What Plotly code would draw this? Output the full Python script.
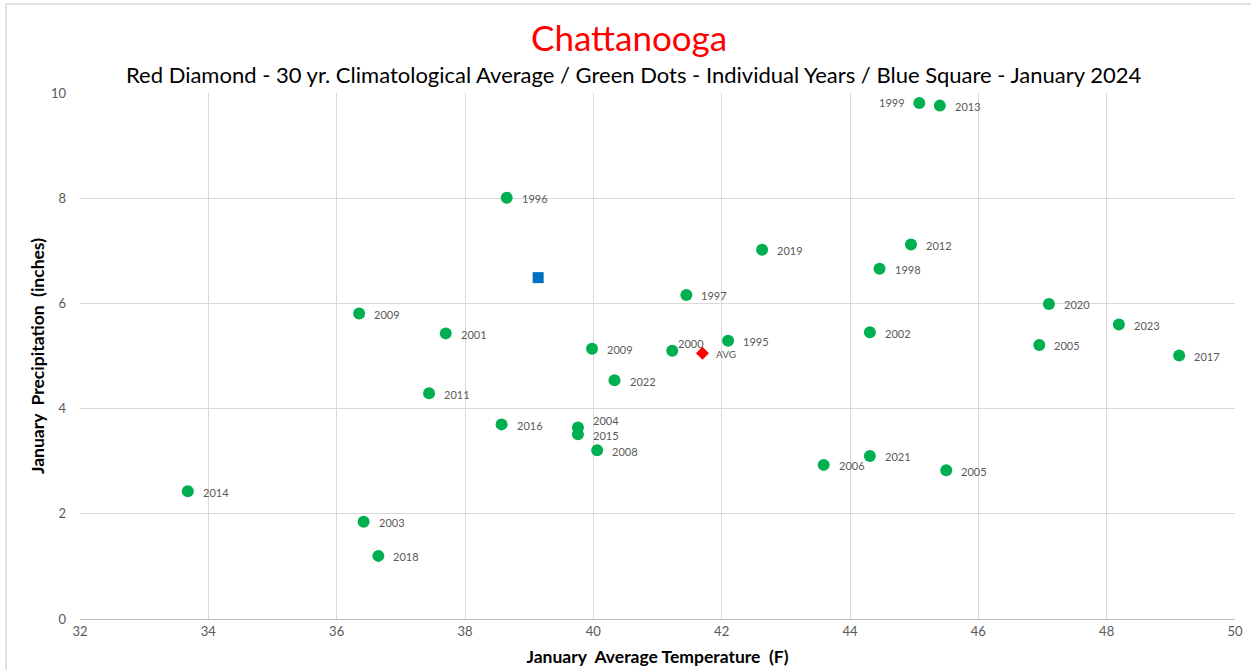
import plotly.graph_objects as go

# ---- data ----
years = ["1999", "2013", "2012", "1998", "2020", "2002", "2005", "2023", "2017",
         "2009", "1996", "2019", "1997", "2001", "2009", "2000", "1995", "2022",
         "2011", "2016", "2004", "2015", "2008", "2006", "2021", "2005", "2014",
         "2003", "2018"]
temps = [45.08, 45.40, 44.95, 44.46, 47.10, 44.31, 46.95, 48.19, 49.13,
         36.35, 38.65, 42.63, 41.45, 37.70, 39.98, 41.23, 42.10, 40.33,
         37.44, 38.57, 39.76, 39.76, 40.06, 43.59, 44.31, 45.50, 33.68,
         36.42, 36.65]
precip = [9.81, 9.76, 7.12, 6.66, 5.99, 5.45, 5.21, 5.60, 5.01,
          5.81, 8.01, 7.02, 6.16, 5.43, 5.14, 5.10, 5.29, 4.54,
          4.29, 3.70, 3.64, 3.51, 3.21, 2.93, 3.10, 2.83, 2.43,
          1.85, 1.20]

avg_temp = [41.70]
avg_precip = [5.05]
avg_label = ["AVG"]

cur_temp = [39.14]
cur_precip = [6.49]

x_ticks = [32, 34, 36, 38, 40, 42, 44, 46, 48, 50]
y_ticks = [0, 2, 4, 6, 8, 10]

title_text = "Chattanooga"
subtitle_text = ("Red Diamond - 30 yr. Climatological Average / Green Dots - Individual Years"
                 " / Blue Square - January 2024")
x_title = "January\u00a0 Average Temperature\u00a0 (F)"
y_title = "January\u00a0 Precipitation\u00a0 (inches)"

# label placement tweaks (style, not data)
special = {0: dict(xanchor="right", xshift=-12, yshift=0),
           15: dict(xanchor="left", xshift=4, yshift=7),
           20: dict(xanchor="left", xshift=13, yshift=7)}

FONT = "Lato, 'Liberation Sans', sans-serif"
LABEL_COLOR = "#595959"

fig = go.Figure()
fig.add_trace(go.Scatter(
    x=temps, y=precip, mode="markers",
    marker=dict(color="#00B050", size=12, symbol="circle"),
    hoverinfo="x+y+text", text=years, showlegend=False))
fig.add_trace(go.Scatter(
    x=cur_temp, y=cur_precip, mode="markers",
    marker=dict(color="#0070C0", size=11, symbol="square"),
    showlegend=False))
fig.add_trace(go.Scatter(
    x=avg_temp, y=avg_precip, mode="markers",
    marker=dict(color="#FF0000", size=10, symbol="diamond"),
    showlegend=False))

W, H = 1251, 670
ml, mr, mt, mb = 80, 16, 93, 51
pw, ph = W - ml - mr, H - mt - mb


def py_to_paper(py):
    return (H - mb - py) / ph


def px_to_paper(px):
    return (px - ml) / pw


annotations = []
for i, (xv, yv, lab) in enumerate(zip(temps, precip, years)):
    opts = dict(xanchor="left", xshift=13, yshift=-1)
    opts.update(special.get(i, {}))
    annotations.append(dict(x=xv, y=yv, text=lab, showarrow=False,
                            yanchor="middle",
                            font=dict(size=11, color=LABEL_COLOR, family=FONT),
                            **opts))
for xv, yv, lab in zip(avg_temp, avg_precip, avg_label):
    annotations.append(dict(x=xv, y=yv, text=lab, showarrow=False,
                            xanchor="left", yanchor="middle", xshift=12, yshift=-1,
                            font=dict(size=10, color=LABEL_COLOR, family=FONT)))

annotations.append(dict(x=px_to_paper(629), xref="paper", y=py_to_paper(37), yref="paper",
                        text=title_text, showarrow=False, xanchor="center",
                        yanchor="middle",
                        font=dict(size=35, color="#FF0000", family=FONT)))
annotations.append(dict(x=px_to_paper(633), xref="paper", y=py_to_paper(74.5), yref="paper",
                        text=subtitle_text, showarrow=False, xanchor="center",
                        yanchor="middle",
                        font=dict(size=22, color="#000000", family=FONT)))

fig.update_layout(
    width=W, height=H, autosize=False,
    margin=dict(l=ml, r=mr, t=mt, b=mb, autoexpand=False),
    paper_bgcolor="white", plot_bgcolor="white",
    font=dict(family=FONT, color=LABEL_COLOR),
    annotations=annotations,
    showlegend=False,
    xaxis=dict(range=[32, 50], tickvals=x_ticks, ticktext=[str(v) for v in x_ticks],
               showgrid=True, gridcolor="#D9D9D9", gridwidth=1, automargin=False,
               showline=True, linecolor="#BFBFBF", linewidth=1, mirror=False,
               zeroline=False, ticks="", tickfont=dict(size=13, color=LABEL_COLOR),
               title=dict(text=x_title, font=dict(size=17.5, color="#000000", family=FONT,
                                                  weight="bold"), standoff=13)),
    yaxis=dict(range=[0, 10], tickvals=y_ticks, ticktext=[str(v) for v in y_ticks],
               showgrid=True, gridcolor="#D9D9D9", gridwidth=1, automargin=False,
               showline=False, zeroline=False, ticks="",
               tickfont=dict(size=13, color=LABEL_COLOR), ticklabelstandoff=13,
               title=dict(text=y_title, font=dict(size=17.5, color="#000000", family=FONT,
                                                  weight="bold"), standoff=1)),
    shapes=[
        dict(type="line", xref="paper", yref="paper",
             x0=px_to_paper(6), x1=px_to_paper(1260), y0=py_to_paper(4), y1=py_to_paper(4),
             line=dict(color="#D9D9D9", width=1.5)),
        dict(type="line", xref="paper", yref="paper",
             x0=px_to_paper(6), x1=px_to_paper(6), y0=py_to_paper(4), y1=py_to_paper(680),
             line=dict(color="#D9D9D9", width=1.5)),
    ],
)

fig.write_html("out.html",
               config={"displayModeBar": False, "responsive": False},
               post_script="document.body.style.margin='0';document.body.style.overflow='hidden';")
